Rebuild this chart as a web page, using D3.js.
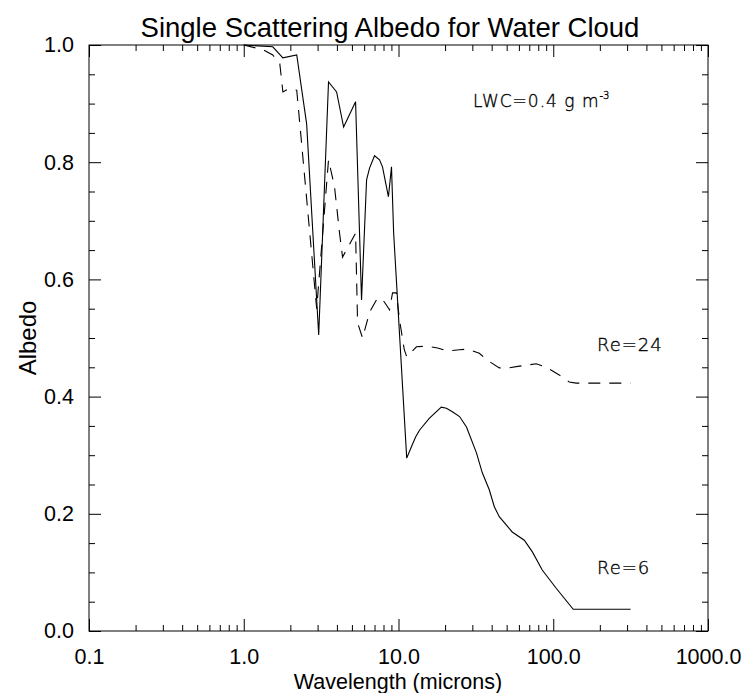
<!DOCTYPE html>
<html>
<head>
<meta charset="utf-8">
<script src="https://cdn.jsdelivr.net/npm/d3@7"></script>
<style>
  html, body { margin: 0; padding: 0; background: #fff; }
  svg { display: block; }
</style>
</head>
<body>
<svg id="chart" width="744" height="693"></svg>
<script>
// ---- data ----
const wavelengthRe6 = [1.0, 1.54, 1.79, 2.20, 2.55, 3.05, 3.53, 3.98, 4.42, 5.28, 5.77, 6.22, 6.50, 7.0, 7.54, 7.88, 8.61, 9.01, 9.30, 11.3, 12.1, 12.9, 13.7, 15.8, 18.9, 20.4, 22.3, 24.8, 27.5, 31.9, 34.8, 38.6, 41.6, 44.8, 54.3, 65.0, 73.3, 84.9, 104.5, 134.6, 316];
const albedoRe6     = [1.0, 0.997, 0.978, 0.983, 0.865, 0.505, 0.937, 0.920, 0.860, 0.903, 0.565, 0.770, 0.790, 0.811, 0.804, 0.792, 0.741, 0.792, 0.680, 0.295, 0.314, 0.331, 0.343, 0.363, 0.382, 0.380, 0.374, 0.366, 0.348, 0.304, 0.270, 0.241, 0.212, 0.195, 0.169, 0.155, 0.135, 0.104, 0.073, 0.037, 0.037];

const wavelengthRe24 = [1.0, 1.33, 1.54, 1.71, 1.79, 1.95, 2.20, 2.96, 3.53, 3.86, 4.16, 4.35, 5.28, 5.44, 5.86, 6.50, 7.21, 7.77, 8.12, 8.75, 9.15, 9.69, 10.15, 10.9, 11.3, 13.06, 15.2, 17.9, 20.7, 24.8, 27.9, 33.3, 37.5, 44.8, 52.0, 60.4, 77.6, 90.1, 109.3, 126.8, 140.6, 316];
const albedoRe24     = [1.0, 0.992, 0.983, 0.968, 0.920, 0.925, 0.923, 0.550, 0.804, 0.758, 0.679, 0.638, 0.679, 0.526, 0.500, 0.544, 0.565, 0.568, 0.561, 0.548, 0.577, 0.577, 0.531, 0.480, 0.468, 0.485, 0.486, 0.483, 0.478, 0.480, 0.481, 0.474, 0.462, 0.449, 0.449, 0.452, 0.456, 0.450, 0.437, 0.425, 0.423, 0.423];

const xMajorTicks  = [0.1, 1, 10, 100, 1000];
const xTickLabels  = ["0.1", "1.0", "10.0", "100.0", "1000.0"];
const yMajorTicks  = [0.0, 0.2, 0.4, 0.6, 0.8, 1.0];
const yTickLabels  = ["0.0", "0.2", "0.4", "0.6", "0.8", "1.0"];

const titleText  = "Single Scattering Albedo for Water Cloud";
const xLabelText = "Wavelength (microns)";
const yLabelText = "Albedo";

// ---- layout ----
const svg = d3.select("#chart");
const L = 89, R = 708, T = 45, B = 631;
const x = d3.scaleLog().domain([0.1, 1000]).range([L, R]);
const y = d3.scaleLinear().domain([0, 1]).range([B, T]);

const xMinor = [];
for (let d = 0.1; d < 1000; d *= 10) for (let k = 2; k <= 9; k++) xMinor.push(+(d * k).toPrecision(3));
const yMinor = d3.range(0, 21).map(i => +(i * 0.05).toFixed(2)).filter(v => Math.abs(v * 5 - Math.round(v * 5)) > 1e-6);

const FONT = "'Liberation Sans', Arial, Helvetica, sans-serif";
const AXFS = "21.5px";

function styleAxis(g) {
  g.select(".domain").remove();
  g.selectAll(".tick line").attr("stroke", "#000").attr("stroke-width", 1);
  g.selectAll(".tick text").attr("fill", "#000").style("font-family", FONT).style("font-size", AXFS);
}

const MAJ = 12, MIN = 6;
// bottom
svg.append("g").attr("transform", `translate(0,${B})`)
  .call(d3.axisBottom(x).tickValues(xMajorTicks).tickSize(-MAJ).tickPadding(18)
        .tickFormat((d, i) => xTickLabels[i])).call(styleAxis);
svg.append("g").attr("transform", `translate(0,${B})`)
  .call(d3.axisBottom(x).tickValues(xMinor).tickSize(-MIN).tickFormat("")).call(styleAxis);
// top
svg.append("g").attr("transform", `translate(0,${T})`)
  .call(d3.axisTop(x).tickValues(xMajorTicks).tickSize(-MAJ).tickFormat("")).call(styleAxis);
svg.append("g").attr("transform", `translate(0,${T})`)
  .call(d3.axisTop(x).tickValues(xMinor).tickSize(-MIN).tickFormat("")).call(styleAxis);
// left
svg.append("g").attr("transform", `translate(${L},0)`)
  .call(d3.axisLeft(y).tickValues(yMajorTicks).tickSize(-MAJ).tickPadding(15)
        .tickFormat((d, i) => yTickLabels[i])).call(styleAxis);
svg.append("g").attr("transform", `translate(${L},0)`)
  .call(d3.axisLeft(y).tickValues(yMinor).tickSize(-MIN).tickFormat("")).call(styleAxis);
// right
svg.append("g").attr("transform", `translate(${R},0)`)
  .call(d3.axisRight(y).tickValues(yMajorTicks).tickSize(-MAJ).tickFormat("")).call(styleAxis);
svg.append("g").attr("transform", `translate(${R},0)`)
  .call(d3.axisRight(y).tickValues(yMinor).tickSize(-MIN).tickFormat("")).call(styleAxis);

// frame
svg.append("rect").attr("x", L).attr("y", T).attr("width", R - L).attr("height", B - T)
  .attr("fill", "none").attr("stroke", "#000").attr("stroke-width", 1);

// lines
const line = d3.line().x(d => x(d[0])).y(d => y(d[1]));
svg.append("path").datum(wavelengthRe6.map((w, i) => [w, albedoRe6[i]]))
  .attr("d", line).attr("fill", "none").attr("stroke", "#000").attr("stroke-width", 1.1);
svg.append("path").datum(wavelengthRe24.map((w, i) => [w, albedoRe24[i]]))
  .attr("d", line).attr("fill", "none").attr("stroke", "#000").attr("stroke-width", 1.1)
  .attr("stroke-dasharray", "12,9");

// titles
svg.append("text").attr("x", 390).attr("y", 37).attr("text-anchor", "middle")
  .style("font-family", FONT).style("font-size", "27.5px").text(titleText);
svg.append("text").attr("x", 398).attr("y", 689).attr("text-anchor", "middle")
  .style("font-family", FONT).style("font-size", AXFS).text(xLabelText);
svg.append("text").attr("transform", "translate(36,338) rotate(-90)").attr("text-anchor", "middle")
  .style("font-family", FONT).style("font-size", "24px").text(yLabelText);

// annotations (thin vector-style font)
const ANN = "'DejaVu Sans', sans-serif";
function annStyle(s) {
  return s.style("font-family", ANN).style("font-weight", 200)
    .attr("fill", "#000").attr("stroke", "#000").attr("stroke-width", 0.35);
}
const lwc = annStyle(svg.append("text").attr("x", 473).attr("y", 107))
  .style("font-size", "17px").style("letter-spacing", "1px");
lwc.append("tspan").text("LWC=0.4  g  m");
lwc.append("tspan").attr("dy", -8).style("font-size", "10px").style("letter-spacing", "0px").text("-3");

annStyle(svg.append("text").attr("x", 597).attr("y", 351))
  .style("font-size", "18px").style("letter-spacing", "1px").text("Re=24");
annStyle(svg.append("text").attr("x", 597).attr("y", 574))
  .style("font-size", "18px").style("letter-spacing", "1px").text("Re=6");
</script>
</body>
</html>
